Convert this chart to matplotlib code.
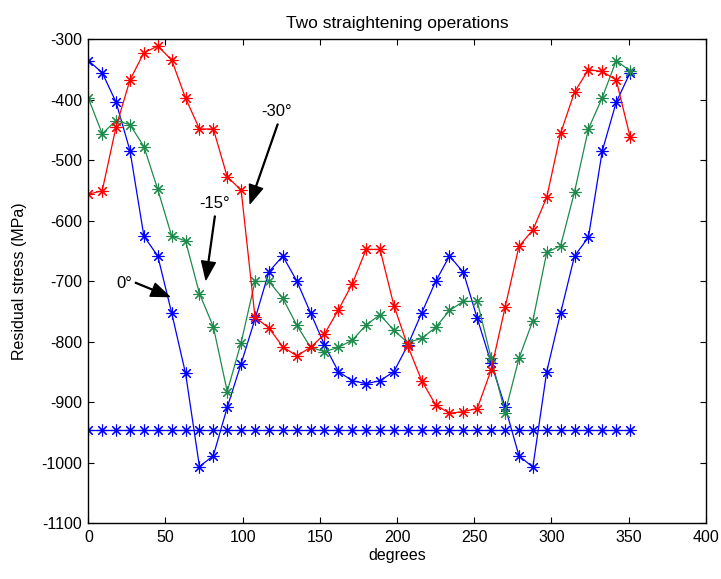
import matplotlib
matplotlib.use('Agg')
import matplotlib.pyplot as plt

plt.rcParams['font.family'] = ['Liberation Sans', 'DejaVu Sans']
plt.rcParams['axes.unicode_minus'] = False

# angle positions (degrees)
deg = [0, 9, 18, 27, 36, 45, 54, 63, 72, 81, 90, 99, 108, 117, 126, 135, 144, 153, 162, 171,
       180, 189, 198, 207, 216, 225, 234, 243, 252, 261, 270, 279, 288, 297, 306, 315, 324, 333, 342, 351]

# residual stress, MPa
s_0 = [-335, -355, -404, -484, -625, -658, -752, -852, -1006, -988,
       -908, -836, -762, -684, -658, -699, -752, -805, -849, -864,
       -869, -864, -849, -805, -752, -700, -658, -685, -761, -835,
       -907, -988, -1007, -849, -752, -658, -627, -484, -404, -355]
s_15 = [-397, -456, -434, -441, -477, -548, -625, -633, -720, -775,
        -882, -801, -700, -700, -728, -772, -809, -816, -809, -797,
        -772, -755, -781, -801, -794, -776, -748, -733, -733, -827,
        -917, -827, -765, -652, -641, -552, -448, -396, -335, -352]
s_30 = [-556, -550, -444, -367, -322, -311, -334, -397, -448, -448,
        -527, -549, -759, -777, -808, -823, -809, -787, -747, -704,
        -647, -647, -740, -807, -864, -904, -918, -915, -910, -846,
        -743, -642, -615, -561, -455, -387, -350, -353, -367, -461]
s_lim = [-946] * len(deg)

xticks = [0, 50, 100, 150, 200, 250, 300, 350, 400]
yticks = [-1100, -1000, -900, -800, -700, -600, -500, -400, -300]

blue = '#0000ff'
green = '#1e8a4c'
red = '#ff0000'

fig = plt.figure(figsize=(7.21, 5.79), dpi=100)
ax = fig.add_axes([0.1225, 0.0959, 0.8563, 0.836])

mk = dict(marker=(8, 2, 0), markersize=8.5, markeredgewidth=0.8, linewidth=0.9)
ax.plot(deg, s_lim, color=blue, **mk)
ax.plot(deg, s_0, color=blue, **mk)
ax.plot(deg, s_15, color=green, **mk)
ax.plot(deg, s_30, color=red, **mk)

# labels with arrows
arw = dict(facecolor='black', edgecolor='black', width=0.6, headwidth=10, headlength=13, shrink=0)
ax.annotate('', xy=(104.8, -571), xytext=(122.7, -440), arrowprops=arw)
ax.text(122, -419, '-30°', ha='center', va='center', fontsize=12)
ax.annotate('', xy=(76.2, -697), xytext=(82, -592), arrowprops=arw)
ax.text(82, -571, '-15°', ha='center', va='center', fontsize=12)
ax.annotate('', xy=(52.5, -725), xytext=(30.5, -702), arrowprops=arw)
ax.text(23.3, -703, '0°', ha='center', va='center', fontsize=12)

ax.set_xlim(0, 400)
ax.set_ylim(-1100, -300)
ax.set_xticks(xticks)
ax.set_yticks(yticks)
ax.tick_params(direction='in', top=True, right=True, length=4, width=0.8, labelsize=11.5, pad=5)
ax.tick_params(axis='y', pad=4.5)
for sp in ax.spines.values():
    sp.set_linewidth(1.0)

ax.set_title('Two straightening operations', fontsize=12.5, pad=8)
ax.set_xlabel('degrees', fontsize=11.5, labelpad=2)
ax.set_ylabel('Residual stress (MPa)', fontsize=11.5, labelpad=10)

fig.savefig('out.png', dpi=100)
